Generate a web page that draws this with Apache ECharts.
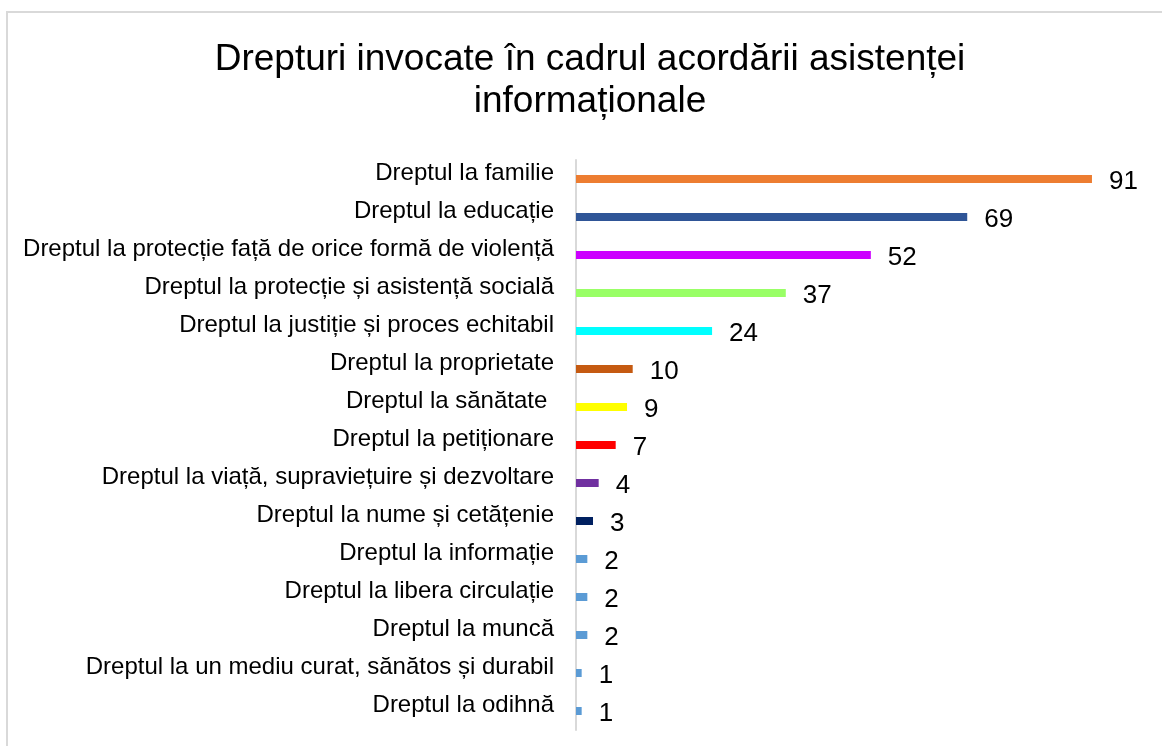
<!DOCTYPE html>
<html>
<head>
<meta charset="utf-8">
<script src="https://cdn.jsdelivr.net/npm/echarts@6/dist/echarts.min.js"></script>
<style>
    html, body { margin: 0; padding: 0; background: #fff; }
    #chart { width: 1162px; height: 746px; }
</style>
</head>
<body>
<div id="chart"></div>
<script>
const categories = [
    'Dreptul la familie',
    'Dreptul la educație',
    'Dreptul la protecție față de orice formă de violență',
    'Dreptul la protecție și asistență socială',
    'Dreptul la justiție și proces echitabil',
    'Dreptul la proprietate',
    'Dreptul la sănătate ',
    'Dreptul la petiționare',
    'Dreptul la viață, supraviețuire și dezvoltare',
    'Dreptul la nume și cetățenie',
    'Dreptul la informație',
    'Dreptul la libera circulație',
    'Dreptul la muncă',
    'Dreptul la un mediu curat, sănătos și durabil',
    'Dreptul la odihnă'
];
const values = [91, 69, 52, 37, 24, 10, 9, 7, 4, 3, 2, 2, 2, 1, 1];

// one colour per bar, same order as categories
const barColors = ['#ED7D31', '#2F5597', '#CC00FF', '#99FF66', '#00FFFF', '#C55A11', '#FFFF00',
    '#FF0000', '#7030A0', '#002060', '#5B9BD5', '#5B9BD5', '#5B9BD5', '#5B9BD5', '#5B9BD5'];

const font = "'Liberation Sans', Arial, sans-serif";

let myChart = echarts.init(document.getElementById('chart'));
let option = {
    backgroundColor: '#fff',
    title: {
        text: 'Drepturi invocate în cadrul acordării asistenței\ninformaționale',
        left: 590,
        top: 39,
        padding: 0,
        textAlign: 'center',
        textStyle: {
            fontFamily: font,
            fontSize: 37,
            fontWeight: 'normal',
            color: '#000',
            lineHeight: 42
        }
    },
    graphic: [{
        type: 'rect',
        shape: {x: 7, y: 12, width: 1200, height: 800},
        style: {fill: 'none', stroke: '#d9d9d9', lineWidth: 2},
        silent: true
    }],
    grid: {
        left: 576,
        right: 19,
        top: 160,
        height: 570
    },
    xAxis: {
        type: 'value',
        min: 0,
        max: 100,
        show: false
    },
    yAxis: {
        type: 'category',
        inverse: true,
        data: categories,
        axisLine: {lineStyle: {color: '#d9d9d9', width: 2}},
        axisTick: {show: false},
        axisLabel: {
            margin: 22,
            fontFamily: font,
            fontSize: 24,
            color: '#000',
            verticalAlign: 'bottom',
            lineHeight: 11
        }
    },
    series: [{
        type: 'bar',
        barWidth: 8,
        data: values.map((v, i) => ({value: v, itemStyle: {color: barColors[i]}})),
        label: {
            show: true,
            position: 'right',
            distance: 17,
            offset: [0, 3],
            fontFamily: font,
            fontSize: 26,
            color: '#000'
        }
    }]
};
myChart.setOption(option);
</script>
</body>
</html>
